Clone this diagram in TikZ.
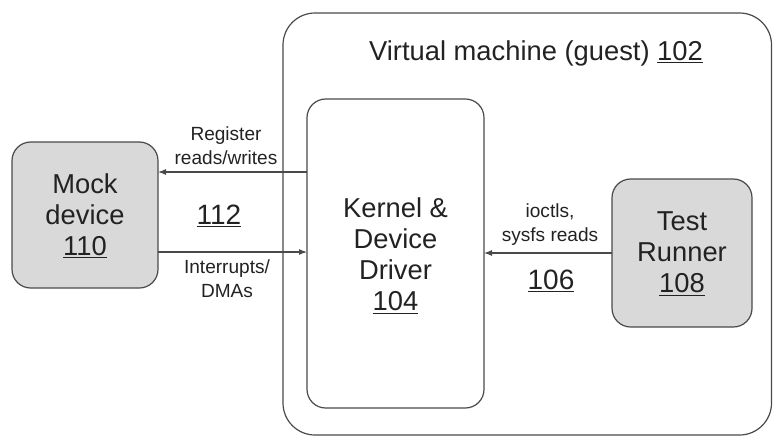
\documentclass[tikz,border=0pt]{standalone}
\usepackage{fontspec}
\setmainfont{Liberation Sans}
\usetikzlibrary{arrows.meta}
\definecolor{edge}{HTML}{4A4A4A}
\definecolor{boxfill}{HTML}{D9D9D9}
\definecolor{ink}{HTML}{222222}
\tikzset{
  bigbox/.style={draw=edge, line width=0.9pt, rounded corners=#1},
  unit/.style={bigbox=14pt, fill=boxfill},
  boxtext/.style={align=center, font=\fontsize{20.5}{23.25}\selectfont, text=ink},
  link/.style={draw=edge, line width=0.8pt, -{Latex[length=6pt,width=4.5pt]}},
  caption/.style={align=center, font=\fontsize{14.3}{18}\selectfont, text=ink},
  refnum/.style={font=\fontsize{21}{22}\selectfont, text=ink},
}
\begin{document}
\begin{tikzpicture}[x=0.75pt, y=-0.75pt]
\useasboundingbox (0,0) rectangle (773,436);
% guest virtual machine
\draw[bigbox=24pt] (283,13) rectangle (771.5,435);
\node[font=\fontsize{20.5}{22}\selectfont, text=ink] (vm) at (536,53) {Virtual machine (guest) \underline{102}};
% kernel and driver
\draw[bigbox=14pt] (307,99) rectangle (484,408);
\node[boxtext] (kernel) at (395.5,256) {Kernel \&\\Device\\Driver\\\underline{104}};
\coordinate (kTop) at (307,172);
\coordinate (kBot) at (307,252);
\coordinate (kRight) at (484,253);
% external mock device
\path[unit] (12,142) rectangle (158,288);
\node[boxtext] (mock) at (85,216) {Mock\\device\\\underline{110}};
\coordinate (mTop) at (158,172);
\coordinate (mBot) at (158,252);
% test runner
\path[unit] (612,179) rectangle (752,327);
\node[boxtext] (runner) at (682,254) {Test\\Runner\\\underline{108}};
\coordinate (rLeft) at (612,253);
% connectors
\draw[link] (kTop) -- (mTop);
\draw[link] (mBot) -- (kBot);
\draw[link] (rLeft) -- (kRight);
% connector labels
\node[caption] (regs) at (226,146) {Register\\reads/writes};
\node[refnum] (n112) at (219,216) {\underline{112}};
\node[caption] (irq) at (227,279) {Interrupts/\\DMAs};
\node[caption] (ioctl) at (550,225) {ioctls,\\sysfs reads};
\node[refnum] (n106) at (551,281) {\underline{106}};
\end{tikzpicture}
\end{document}
